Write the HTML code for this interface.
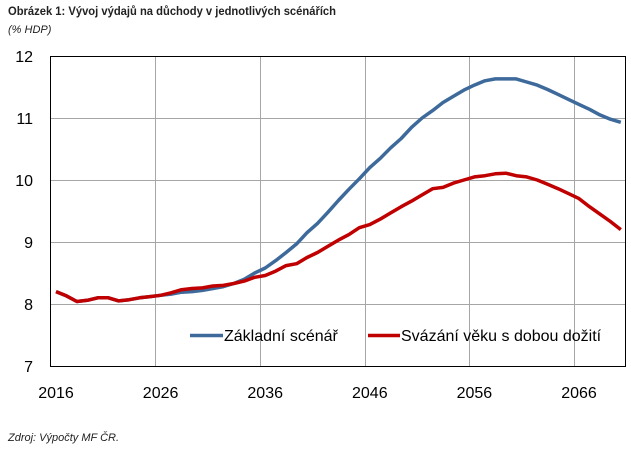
<!DOCTYPE html>
<html><head><meta charset="utf-8"><style>
body{margin:0;background:#fff;width:631px;height:451px;overflow:hidden;font-family:"Liberation Sans",sans-serif}
</style></head><body>
<svg id="s" width="631" height="451" xmlns="http://www.w3.org/2000/svg" font-family="Liberation Sans, sans-serif">
<text x="8" y="15" font-size="11.5" font-weight="bold" fill="#222" textLength="328" lengthAdjust="spacingAndGlyphs">Obrázek 1: Vývoj výdajů na důchody v jednotlivých scénářích</text>
<text x="8" y="33" font-size="11" font-style="italic" fill="#222">(% HDP)</text>
<text x="8" y="441" font-size="11" font-style="italic" fill="#222">Zdroj: Výpočty MF ČR.</text>
<g id="grid" stroke="#a6a6a6" stroke-width="1"></g>
<rect x="50.5" y="56.5" width="575" height="310" fill="none" stroke="#000" stroke-width="1"/>
<g id="lab" font-size="16" fill="#000"></g>
<polyline id="b" fill="none" stroke="#3d6a9b" stroke-width="3.5" stroke-linejoin="round"/>
<polyline id="r" fill="none" stroke="#c00000" stroke-width="3.5" stroke-linejoin="round"/>
<line x1="190" y1="335.5" x2="223" y2="335.5" stroke="#3d6a9b" stroke-width="3.5"/>
<text x="224" y="341" font-size="16">Základní scénář</text>
<line x1="368" y1="335.5" x2="400" y2="335.5" stroke="#c00000" stroke-width="3.5"/>
<text x="401" y="341" font-size="16">Svázání věku s dobou dožití</text>
</svg>
<script>
var ns="http://www.w3.org/2000/svg";
function Y(v){return 56+(12-v)*62;}
function X(y){return 56+(y-2016)*10.46;}
var g=document.getElementById('grid'),lab=document.getElementById('lab');
for(var v=8;v<=11;v++){var l=document.createElementNS(ns,'line');l.setAttribute('x1',51);l.setAttribute('x2',625);l.setAttribute('y1',Y(v)+.5);l.setAttribute('y2',Y(v)+.5);g.appendChild(l);}
for(var i=1;i<=5;i++){var x=Math.round(X(2015.5+10*i))+.5;var l=document.createElementNS(ns,'line');l.setAttribute('x1',x);l.setAttribute('x2',x);l.setAttribute('y1',57);l.setAttribute('y2',366);g.appendChild(l);}
for(var v=7;v<=12;v++){var t=document.createElementNS(ns,'text');t.setAttribute('x',33);t.setAttribute('y',Y(v)+6);t.setAttribute('text-anchor','end');t.textContent=v;lab.appendChild(t);}
for(var i=0;i<6;i++){var yr=2016+10*i;var t=document.createElementNS(ns,'text');t.setAttribute('x',X(yr));t.setAttribute('y',398);t.setAttribute('text-anchor','middle');t.textContent=yr;lab.appendChild(t);}
var common=[8.2,8.13,8.04,8.06,8.1,8.1,8.05,8.07,8.1,8.12,8.14];
var b=common.concat([8.16,8.19,8.2,8.22,8.25,8.28,8.33,8.4,8.5,8.58,8.7,8.83,8.97,9.15,9.3,9.48,9.67,9.85,10.02,10.2,10.35,10.52,10.67,10.85,11.0,11.12,11.25,11.35,11.45,11.53,11.6,11.63,11.63,11.63,11.58,11.53,11.46,11.38,11.3,11.22,11.14,11.05,10.98,10.93]);
var r=common.concat([8.18,8.23,8.25,8.26,8.29,8.3,8.33,8.37,8.43,8.46,8.53,8.62,8.65,8.75,8.83,8.93,9.03,9.12,9.23,9.28,9.37,9.47,9.57,9.66,9.76,9.86,9.88,9.95,10.0,10.05,10.07,10.1,10.11,10.07,10.05,10.0,9.93,9.86,9.78,9.7,9.57,9.45,9.33,9.2]);
function pts(a){return a.map(function(v,i){return X(2016+i).toFixed(1)+','+Y(v).toFixed(1)}).join(' ');}
document.getElementById('b').setAttribute('points',pts(b));
document.getElementById('r').setAttribute('points',pts(r));
</script>
</body></html>
